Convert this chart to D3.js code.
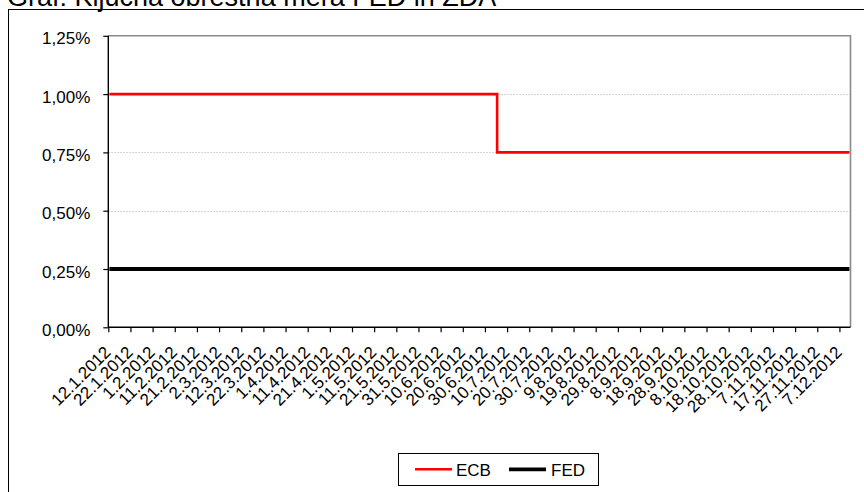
<!DOCTYPE html>
<html><head><meta charset="utf-8">
<script src="https://cdn.jsdelivr.net/npm/d3@7"></script>
<style>body{margin:0;background:#fff}svg{display:block}text{font-family:"Liberation Sans",Arial,sans-serif}</style>
</head><body>
<script>
const titleText = "Graf: Ključna obrestna mera FED in ZDA";
const tickLabels = ["12.1.2012","22.1.2012","1.2.2012","11.2.2012","21.2.2012","2.3.2012","12.3.2012","22.3.2012","1.4.2012","11.4.2012","21.4.2012","1.5.2012","11.5.2012","21.5.2012","31.5.2012","10.6.2012","20.6.2012","30.6.2012","10.7.2012","20.7.2012","30.7.2012","9.8.2012","19.8.2012","29.8.2012","8.9.2012","18.9.2012","28.9.2012","8.10.2012","18.10.2012","28.10.2012","7.11.2012","17.11.2012","27.11.2012","7.12.2012"];
const firstDay = "12.1.2012";
const lastDay = "11.12.2012";
const ecbDates = ["12.1.2012","5.7.2012","11.12.2012"];
const ecbValues = [1.00, 0.75, 0.75];
const fedDates = ["12.1.2012","11.12.2012"];
const fedValues = [0.25, 0.25];
const yTicks = [0, 0.25, 0.5, 0.75, 1.0, 1.25];
const seriesNames = ["ECB","FED"];

const W = 864, H = 492;
const parse = d3.timeParse("%-d.%-m.%Y");
const day = 864e5;
const svg = d3.select("body").append("svg").attr("width", W).attr("height", H);

const x = d3.scaleTime()
  .domain([parse(firstDay), d3.timeDay.offset(parse(lastDay), 1)])
  .range([108.3, 850.5]);
const y = d3.scaleLinear().domain([0, 1.25]).range([327.3, 35.8]);
const mid = s => new Date(parse(s).getTime() + day / 2);
const fmt = v => d3.format(".2f")(v).replace(".", ",") + "%";

// chart area border
svg.append("rect").attr("x", 8.5).attr("y", 9.5).attr("width", 1000).attr("height", 1000)
  .attr("fill", "none").attr("stroke", "#000").attr("stroke-width", 1);

// title
svg.append("text").attr("x", 7).attr("y", 5.5).attr("font-size", 27).text(titleText);

// gridlines
svg.append("g").selectAll("line").data(yTicks.filter(v => v > 0 && v < 1.25)).join("line")
  .attr("x1", x.range()[0]).attr("x2", x.range()[1])
  .attr("y1", d => Math.round(y(d)) + 0.5).attr("y2", d => Math.round(y(d)) + 0.5)
  .attr("stroke", "#c8c8c8").attr("stroke-width", 1).attr("stroke-dasharray", "1.5,1.5");

// plot border top & right
svg.append("path")
  .attr("d", `M${x.range()[0]},${y(1.25)}H${x.range()[1]}V${y(0)}`)
  .attr("fill", "none").attr("stroke", "#8a8a8a").attr("stroke-width", 1.6);

// y axis
const yAxis = svg.append("g").attr("transform", `translate(${x.range()[0]},0)`)
  .call(d3.axisLeft(y).tickValues(yTicks).tickSize(5).tickFormat(fmt));
yAxis.select(".domain").attr("stroke", "#000").attr("stroke-width", 1.4).attr("d", `M0,${y(0)}V${y(1.25)}`);
yAxis.selectAll(".tick line").attr("stroke", "#000").attr("stroke-width", 1.2);
yAxis.selectAll(".tick text").attr("x", -18).attr("dy", null).attr("y", 8)
  .attr("font-size", 17).attr("fill", "#000").attr("font-family", "Liberation Sans, Arial, sans-serif");

// x axis
const tickDates = tickLabels.map(parse);
const xAxis = svg.append("g").attr("transform", `translate(0,${y(0)})`)
  .call(d3.axisBottom(x).tickValues(tickDates).tickSize(5).tickFormat(""));
xAxis.select(".domain").attr("stroke", "#000").attr("stroke-width", 1.6).attr("d", `M${x.range()[0]},0H${x.range()[1]}`);
xAxis.selectAll(".tick line").attr("stroke", "#000").attr("stroke-width", 1.2);
svg.append("g").selectAll("text").data(tickLabels).join("text")
  .attr("transform", d => `translate(${x(parse(d)) + 3.4},${y(0) + 26}) rotate(-45)`)
  .attr("text-anchor", "end").attr("font-size", 17).attr("fill", "#000").text(d => d);

// lines
const line = d3.line().x(d => x(d[0])).y(d => y(d[1])).curve(d3.curveStepAfter);
const ecbData = ecbDates.map((d, i) => [mid(d), ecbValues[i]]);
const fedData = fedDates.map((d, i) => [mid(d), fedValues[i]]);
svg.append("path").datum(fedData).attr("d", line).attr("fill", "none")
  .attr("stroke", "#000").attr("stroke-width", 4.2);
svg.append("path").datum(ecbData).attr("d", line).attr("fill", "none")
  .attr("stroke", "#ff0000").attr("stroke-width", 2.6);

// legend
const lg = svg.append("g");
lg.append("rect").attr("x", 398.5).attr("y", 453.5).attr("width", 200).attr("height", 32)
  .attr("fill", "#fff").attr("stroke", "#000").attr("stroke-width", 1);
const legendItems = [
  {name: seriesNames[0], color: "#ff0000", w: 2.4, x1: 415, x2: 452, tx: 456},
  {name: seriesNames[1], color: "#000", w: 3.8, x1: 509, x2: 546, tx: 551}
];
legendItems.forEach(it => {
  lg.append("line").attr("x1", it.x1).attr("x2", it.x2).attr("y1", 469.3).attr("y2", 469.3)
    .attr("stroke", it.color).attr("stroke-width", it.w);
  lg.append("text").attr("x", it.tx).attr("y", 476).attr("font-size", 17).text(it.name);
});
</script>
</body></html>
